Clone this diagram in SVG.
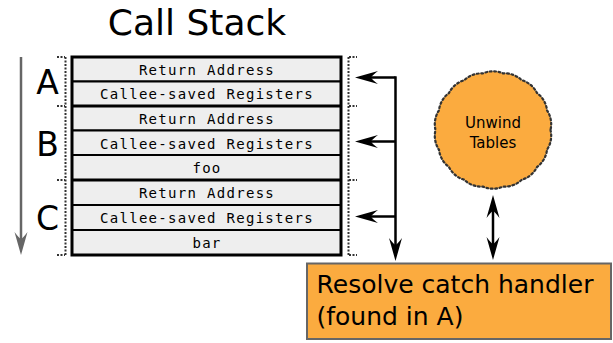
<svg xmlns="http://www.w3.org/2000/svg" width="613" height="343" viewBox="0 0 613 343">
<style>
.sans{font-family:"DejaVu Sans","Liberation Sans",sans-serif;fill:#000}
.mono{font-family:"DejaVu Sans Mono","Liberation Mono",monospace;font-size:14px;letter-spacing:1.3px;fill:#000;text-anchor:middle}
.row{fill:#eeeeee;stroke:#000;stroke-width:2}
.dots{fill:none;stroke:#333;stroke-width:2;stroke-dasharray:2,1.5}
.conn{fill:none;stroke:#000;stroke-width:2.5}
.orange{fill:#fbab3f}
</style>
<defs>
<marker id="ah" markerUnits="userSpaceOnUse" markerWidth="30" markerHeight="20" viewBox="-10 -10 30 20" refX="0" refY="0" orient="auto-start-reverse" overflow="visible">
<path d="M16,0 L-7,-6.5 Q-1,-2 0,0 Q-1,2 -7,6.5 Z" fill="#000"/>
</marker>
<marker id="ahg" markerUnits="userSpaceOnUse" markerWidth="30" markerHeight="20" viewBox="-10 -10 30 20" refX="0" refY="0" orient="auto" overflow="visible">
<path d="M16,0 L-7,-6.5 Q-1,-2 0,0 Q-1,2 -7,6.5 Z" fill="#666"/>
</marker>
</defs>

<text id="title" class="sans" x="197" y="35" font-size="36" text-anchor="middle">Call Stack</text>

<g id="direction-arrow">
<line x1="21" y1="57" x2="21" y2="239" stroke="#666" stroke-width="2.5" marker-end="url(#ahg)"/>
</g>

<g id="frame-labels" class="sans" font-size="33" text-anchor="middle">
<text x="47.5" y="94">A</text>
<text x="47.5" y="155.5">B</text>
<text x="47.5" y="229.5">C</text>
</g>

<g id="left-bracket">
<path class="dots" d="M65.5,57 V255 M57,57 H65 M57,106 H65 M57,180 H65 M57,255 H65"/>
</g>
<g id="right-bracket">
<path class="dots" d="M348.5,57 V255 M349,57 H357 M349,106 H357 M349,180 H357 M349,255 H357"/>
</g>

<g id="stack">
<g id="frame-A">
<rect class="row" x="72" y="57" width="269" height="24.5"/>
<text class="mono" x="207" y="75">Return Address</text>
<rect class="row" x="72" y="81.5" width="269" height="24.5"/>
<text class="mono" x="207" y="99">Callee-saved Registers</text>
</g>
<g id="frame-B">
<rect class="row" x="72" y="106" width="269" height="24.5"/>
<text class="mono" x="207" y="124">Return Address</text>
<rect class="row" x="72" y="130.5" width="269" height="24.5"/>
<text class="mono" x="207" y="148.5">Callee-saved Registers</text>
<rect class="row" x="72" y="155" width="269" height="25"/>
<text class="mono" x="207" y="173">foo</text>
</g>
<g id="frame-C">
<rect class="row" x="72" y="180" width="269" height="25"/>
<text class="mono" x="207" y="198">Return Address</text>
<rect class="row" x="72" y="205" width="269" height="25"/>
<text class="mono" x="207" y="223">Callee-saved Registers</text>
<rect class="row" x="72" y="230" width="269" height="25"/>
<text class="mono" x="207" y="248">bar</text>
</g>
<path d="M72,106 H341 M72,180 H341" stroke="#000" stroke-width="3"/>
<rect x="72" y="57" width="269" height="198" fill="none" stroke="#000" stroke-width="3"/>
</g>

<g id="unwind-tables">
<path class="orange" stroke="#333" stroke-width="2.2" stroke-dasharray="1.8,2.6" stroke-linecap="round" d="M550.5,130 A25,25 0 0 1 547.03,149.67 A25,25 0 0 1 537.05,166.96 A25,25 0 0 1 521.75,179.8 A25,25 0 0 1 502.98,186.63 A25,25 0 0 1 483.02,186.63 A25,25 0 0 1 464.25,179.8 A25,25 0 0 1 448.95,166.96 A25,25 0 0 1 438.97,149.67 A25,25 0 0 1 435.5,130 A25,25 0 0 1 438.97,110.33 A25,25 0 0 1 448.95,93.04 A25,25 0 0 1 464.25,80.2 A25,25 0 0 1 483.02,73.37 A25,25 0 0 1 502.98,73.37 A25,25 0 0 1 521.75,80.2 A25,25 0 0 1 537.05,93.04 A25,25 0 0 1 547.03,110.33 A25,25 0 0 1 550.5,130 Z"/>
<text class="sans" x="493" y="128" font-size="15" text-anchor="middle">Unwind</text>
<text class="sans" x="493" y="148" font-size="15" text-anchor="middle">Tables</text>
</g>

<g id="resolve-handler">
<rect class="orange" x="307" y="263.5" width="304" height="75.5" stroke="#666" stroke-width="2"/>
<text class="sans" x="316.5" y="293" font-size="25">Resolve catch handler</text>
<text class="sans" x="316.5" y="325" font-size="25">(found in A)</text>
</g>

<g id="connectors">
<path class="conn" d="M395.5,77.5 H371" marker-end="url(#ah)"/>
<path class="conn" d="M395.5,141.5 H371" marker-end="url(#ah)"/>
<path class="conn" d="M395.5,216.5 H371" marker-end="url(#ah)"/>
<path class="conn" d="M395.5,76.3 V245" marker-end="url(#ah)"/>
<path class="conn" d="M493,211 V244" marker-start="url(#ah)" marker-end="url(#ah)"/>
</g>
</svg>
